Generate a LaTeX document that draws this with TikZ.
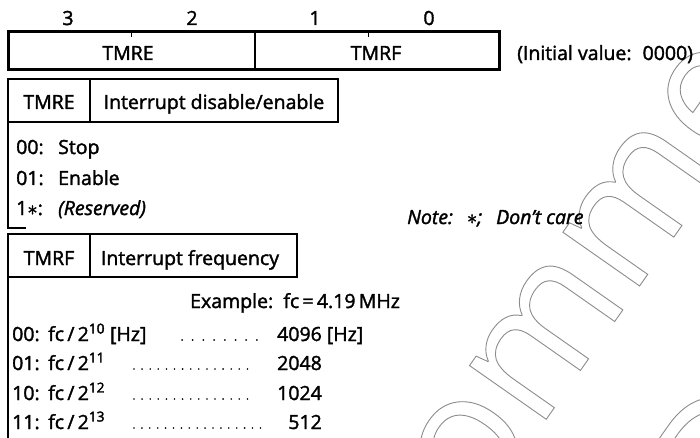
\documentclass[tikz,border=0pt]{standalone}
\usepackage{fontspec}
\setmainfont{Open Sans}
\newcommand{\hollow}[1]{\special{pdf:literal direct 1 Tr 0.9 w}#1\special{pdf:literal direct 0 Tr 0.4 w}}
\newcommand{\heavy}{\special{pdf:literal direct 2 Tr 0.35 w}}
\newcommand{\code}[2]{\makebox[#1][l]{#2}}

\begin{document}
\begin{tikzpicture}[x=1pt, y=-1pt, font=\fontsize{19.5}{22}\selectfont\heavy,
    regline/.style={line width=3pt},
    boxline/.style={line width=1.8pt},
    watermark/.style={text=black!45, font=\fontsize{175}{180}\selectfont, inner sep=0pt, anchor=base west, rotate=55},
    txt/.style={inner sep=0pt, anchor=base},
    entry/.style={inner sep=0pt, anchor=base west},
    value/.style={inner sep=0pt, anchor=base east}]
    \useasboundingbox (0,0) rectangle (700,438);
    \clip (0,0) rectangle (700,438);
    \node[watermark] (wmtop) at (113,1038) {\hollow{Not Recommended}};
    \node[watermark] (wmbot) at (343,1108) {\hollow{for New Design}};

    \node[txt] (bit3) at (68,25) {3};
    \node[txt] (bit2) at (192,25) {2};
    \node[txt] (bit1) at (315,25) {1};
    \node[txt] (bit0) at (429,25) {0};
    \draw[regline] (8.5,32) rectangle (499.5,70);
    \draw[line width=1.3pt] (255,32) -- (255,70);
    \draw[line width=1pt] (131,32) -- (131,37) (368,32) -- (368,37);
    \node[txt] (regE) at (128,60) {TMRE};
    \node[txt] (regF) at (376,60) {TMRF};
    \node[entry] (init) at (517,60) {(Initial value:\hspace{11pt}0000)};

    \draw[boxline] (8,79) rectangle (338,122) (90,79) -- (90,122);
    \draw[boxline] (8,122) -- (8,228) -- (26,228);
    \node[txt] (headE) at (49,109) {TMRE};
    \node[txt] (descE) at (214,109) {Interrupt disable/enable};
    \node[entry] (stop) at (16,154) {\code{42pt}{00:}Stop};
    \node[entry] (enable) at (16,185) {\code{42pt}{01:}Enable};
    \node[entry] (resvd) at (16,215) {\code{42pt}{1$\ast$:}\textit{(Reserved)}};
    \node[entry] (note) at (407,224) {\textit{Note:\hspace{14pt}$\ast$;\hspace{14pt}Don’t care}};

    \draw[boxline] (8,234) rectangle (297,277) (90,234) -- (90,277);
    \draw[boxline] (8,277) -- (8,440);
    \node[txt] (headF) at (49,265) {TMRF};
    \node[txt] (descF) at (190,265) {Interrupt frequency};
    \node[entry] (example) at (190,308) {Example:\ \ fc\,=\,4.19\,MHz};
    \node[entry] (f00) at (12,341) {\code{36pt}{00:}fc\,/\,2\textsuperscript{10}\ [Hz]};
    \node[entry] (f01) at (12,370) {\code{36pt}{01:}fc\,/\,2\textsuperscript{11}};
    \node[entry] (f10) at (12,400) {\code{36pt}{10:}fc\,/\,2\textsuperscript{12}};
    \node[entry] (f11) at (12,429) {\code{36pt}{11:}fc\,/\,2\textsuperscript{13}};
    \node[entry] (v00) at (277,341) {4096 [Hz]};
    \node[value] (v01) at (322,370) {2048};
    \node[value] (v10) at (322,400) {1024};
    \node[value] (v11) at (322,429) {512};
    \foreach \i in {0,...,7}
        \fill (182+\i*10.7,340) circle (1);
    \foreach \y in {369,399}
        \foreach \i in {0,...,14}
            \fill (134+\i*8.1,\y) circle (0.9);
    \foreach \i in {0,...,16}
        \fill (134+\i*7.9,428) circle (0.9);
\end{tikzpicture}
\end{document}
